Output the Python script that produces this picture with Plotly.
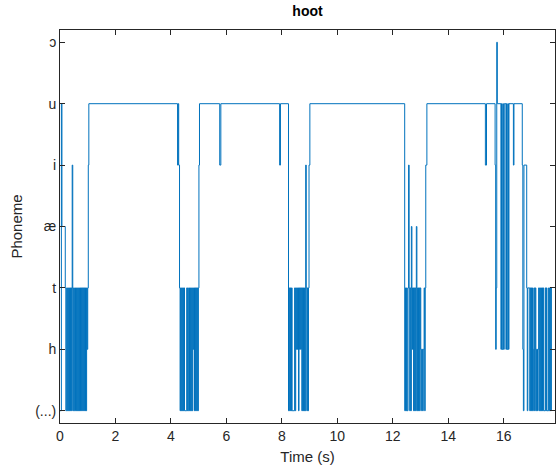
import plotly.graph_objects as go

# Phoneme labels (y categories, index order)
phoneme_labels = ["(...)", "h", "t", "æ", "i", "u", "ɔ"]

# Change points: time (s) at which the decoded phoneme switches, and the new phoneme index
change_times = [
    # burst 1
    0.00, 0.05, 0.07, 0.19, 0.21, 0.24, 0.26, 0.28, 0.30, 0.32, 0.34, 0.36, 0.38, 0.41,
    0.43, 0.44, 0.46, 0.48, 0.50, 0.52, 0.56, 0.58, 0.60, 0.62, 0.64, 0.66, 0.68, 0.70,
    0.72, 0.74, 0.76, 0.78, 0.80, 0.82, 0.84, 0.86, 0.88, 0.90, 0.92, 0.94, 0.96, 0.98,
    1.00, 1.02, 1.04,
    # burst 2
    4.24, 4.26, 4.28, 4.31, 4.33, 4.35, 4.37, 4.39, 4.41, 4.43, 4.45, 4.47, 4.49, 4.57,
    4.59, 4.61, 4.63, 4.67, 4.69, 4.71, 4.73, 4.75, 4.77, 4.79, 4.81, 4.83, 4.85, 4.87,
    4.89, 4.91, 4.93, 4.95, 4.97, 4.99, 5.01, 5.03,
    5.76, 5.80, 7.92, 7.95,
    # burst 3
    8.24, 8.27, 8.29, 8.31, 8.33, 8.35, 8.37, 8.46, 8.48, 8.50, 8.52, 8.54, 8.56, 8.58,
    8.60, 8.62, 8.64, 8.66, 8.68, 8.70, 8.72, 8.74, 8.76, 8.78, 8.80, 8.82, 8.84, 8.86,
    8.88, 8.90, 8.92, 8.94, 8.96, 8.98, 9.01,
    # burst 4
    12.43, 12.46, 12.48, 12.50, 12.52, 12.55, 12.57, 12.59, 12.61, 12.63, 12.65, 12.67,
    12.69, 12.71, 12.73, 12.75, 12.77, 12.79, 12.81, 12.83, 12.85, 12.87, 12.89, 12.91,
    12.93, 12.95, 12.97, 12.99, 13.01, 13.04, 13.06, 13.08, 13.10, 13.13, 13.15, 13.17,
    13.19, 13.23,
    # burst 5
    15.34, 15.38, 15.69, 15.71, 15.73, 15.75, 15.77,
    15.90, 15.92, 15.94, 15.97, 15.99, 16.02, 16.08, 16.10, 16.12, 16.15, 16.17, 16.19,
    16.35, 16.37,
    16.67, 16.69, 16.71, 16.73, 16.83, 16.85, 16.87, 16.94, 16.96, 16.98, 17.00, 17.02,
    17.04, 17.06, 17.08, 17.10, 17.12, 17.14, 17.16, 17.18, 17.20, 17.22, 17.24, 17.26,
    17.28, 17.30, 17.32, 17.34, 17.36, 17.38, 17.40, 17.42, 17.44, 17.50, 17.52, 17.54,
    17.56, 17.62, 17.64, 17.66, 17.68, 17.70, 17.72, 17.73,
]

phoneme_index = [
    # burst 1
    0, 5, 3, 2, 0, 2, 0, 2, 0, 2, 0, 2, 0, 2,
    0, 4, 2, 0, 2, 0, 2, 0, 2, 0, 2, 0, 2, 0,
    2, 0, 2, 0, 2, 0, 2, 0, 2, 0, 2, 0, 2, 1,
    2, 4, 5,
    # burst 2
    4, 5, 4, 2, 0, 2, 0, 2, 0, 2, 0, 2, 0, 2,
    0, 2, 0, 2, 0, 2, 0, 2, 0, 2, 1, 2, 0, 2,
    0, 2, 0, 2, 0, 2, 4, 5,
    4, 5, 4, 5,
    # burst 3
    0, 2, 0, 2, 0, 2, 0, 2, 0, 2, 1, 2, 1, 2,
    0, 2, 1, 2, 1, 2, 0, 2, 0, 2, 0, 2, 0, 4,
    2, 0, 2, 0, 2, 4, 5,
    # burst 4
    0, 2, 0, 2, 0, 2, 4, 2, 0, 2, 0, 3,
    2, 1, 2, 0, 2, 0, 2, 0, 3, 2, 0, 2,
    0, 2, 0, 2, 1, 0, 1, 0, 1, 2, 0, 2,
    4, 5,
    # burst 5
    4, 5, 4, 1, 2, 6, 5,
    1, 5, 1, 5, 1, 5, 1, 5, 1, 5, 1, 5,
    4, 5,
    4, 1, 0, 4, 2, 0, 2, 0, 2, 0, 2, 0,
    2, 1, 0, 2, 0, 2, 1, 0, 1, 0, 1, 2,
    0, 2, 0, 2, 0, 2, 0, 2, 0, 2, 0, 2,
    0, 2, 0, 2, 0, 2, 0, 0,
]

x_ticks = [0, 2, 4, 6, 8, 10, 12, 14, 16]

AX = "#262626"
FONT = "Liberation Sans, Arial, Helvetica, sans-serif"

fig = go.Figure()
fig.add_trace(go.Scatter(
    x=change_times, y=phoneme_index, mode="lines",
    line=dict(color="#0072BD", width=1.0, shape="hv"),
    showlegend=False, hoverinfo="skip",
))

fig.update_layout(
    width=557, height=475,
    margin=dict(l=60, r=2, t=30, b=52),
    paper_bgcolor="white", plot_bgcolor="white",
    font=dict(family=FONT, size=14, color=AX),
    title=dict(text="<b>hoot</b>", x=(60 + 555) / 2 / 557, xanchor="center",
               y=1 - 11 / 475, yanchor="middle",
               font=dict(family=FONT, size=14, color="black")),
    xaxis=dict(
        range=[0, 17.85], tickvals=x_ticks, ticktext=[str(v) for v in x_ticks],
        showline=True, linecolor=AX, linewidth=1, mirror="ticks",
        ticks="inside", ticklen=5, tickcolor=AX, tickwidth=1,
        showgrid=False, zeroline=False,
        title=dict(text="Time (s)", standoff=8, font=dict(size=15)),
        tickfont=dict(size=14),
    ),
    yaxis=dict(
        range=[-0.2, 6.2], tickvals=list(range(len(phoneme_labels))), ticktext=phoneme_labels,
        showline=True, linecolor=AX, linewidth=1, mirror="ticks",
        ticks="inside", ticklen=5, tickcolor=AX, tickwidth=1,
        showgrid=False, zeroline=False,
        title=dict(text="Phoneme", standoff=8, font=dict(size=15)),
        tickfont=dict(size=14),
    ),
)

fig.write_html("out.html")
